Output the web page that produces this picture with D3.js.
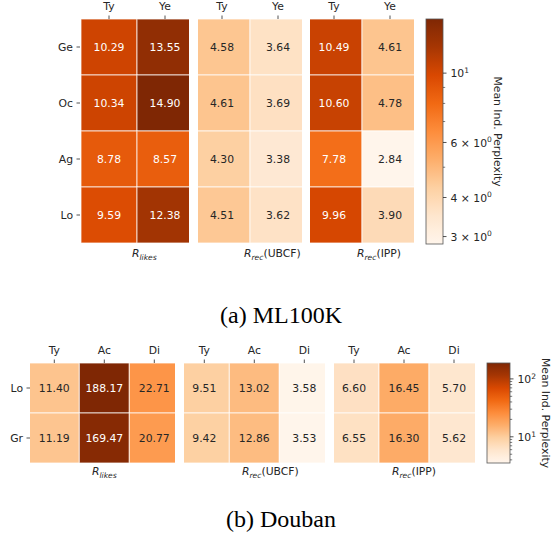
<!DOCTYPE html>
<html>
<head>
<meta charset="utf-8">
<script src="https://cdn.jsdelivr.net/npm/d3@7"></script>
<style>
  body { margin: 0; background: #fff; }
  text { font-family: 'DejaVu Sans', sans-serif; fill: #262626; }
</style>
</head>
<body>
<script>
const width = 553;
const height = 537;
const fs = 10.8;

// ML100K
const mlRows = ['Ge', 'Oc', 'Ag', 'Lo'];
const mlCols = ['Ty', 'Ye'];
const mlLikes = [[10.29, 13.55], [10.34, 14.90], [8.78, 8.57], [9.59, 12.38]];
const mlUBCF = [[4.58, 3.64], [4.61, 3.69], [4.30, 3.38], [4.51, 3.62]];
const mlIPP = [[10.49, 4.61], [10.60, 4.78], [7.78, 2.84], [9.96, 3.90]];
const mlMajorTicks = [10, 6, 4, 3];
const mlMinorTicks = [9, 8, 7, 5];

// Douban
const dbRows = ['Lo', 'Gr'];
const dbCols = ['Ty', 'Ac', 'Di'];
const dbLikes = [[11.40, 188.17, 22.71], [11.19, 169.47, 20.77]];
const dbUBCF = [[9.51, 13.02, 3.58], [9.42, 12.86, 3.53]];
const dbIPP = [[6.60, 16.45, 5.70], [6.55, 16.30, 5.62]];
const dbMajorTicks = [100, 10];
const dbMinorTicks = [4, 5, 6, 7, 8, 9, 20, 30, 40, 50, 60, 70, 80, 90];

const titles = ['(a) ML100K', '(b) Douban'];
const cbLabel = 'Mean Ind. Perplexity';

// matplotlib-style Oranges (linear between the 9 brewer colours)
const oranges = d3.scaleLinear()
  .domain(d3.range(9).map((i) => i / 8))
  .range(d3.schemeOranges[9])
  .interpolate(d3.interpolateRgb)
  .clamp(true);

const svg = d3.select('body')
  .append('svg')
    .attr('width', width)
    .attr('height', height);

const defs = svg.append('defs');
let clipId = 0;

const sup = (sel, base, exp) => {
  sel.append('tspan').text(base);
  sel.append('tspan').attr('font-size', fs * 0.7).attr('dy', -4.5).text(exp);
};

const formatTick = (sel, v) => {
  const e = Math.floor(Math.log10(v) + 1e-9);
  const m = Math.round(v / Math.pow(10, e));
  if (m === 1) sup(sel, '10', e);
  else sup(sel, `${m} \u00d7 10`, e);
};

const heatmap = (opt) => {
  const { values, rows, cols, norm, band, clip, yr, showRows, label } = opt;

  const x = d3.scaleBand().domain(cols).range(band);
  const y = d3.scaleBand().domain(rows).range(yr);

  const id = 'clip' + (clipId++);
  defs.append('clipPath').attr('id', id)
    .append('rect')
      .attr('x', clip[0]).attr('y', yr[0] - 1)
      .attr('width', clip[1] - clip[0]).attr('height', yr[1] - yr[0] + 2);

  const g = svg.append('g');
  const cells = g.append('g').attr('clip-path', `url(#${id})`);

  const flat = [];
  rows.forEach((r, i) => cols.forEach((c, j) => flat.push({ r, c, v: values[i][j] })));

  cells.selectAll('rect')
    .data(flat)
    .enter()
    .append('rect')
      .attr('x', (d) => x(d.c))
      .attr('y', (d) => y(d.r))
      .attr('width', x.bandwidth())
      .attr('height', y.bandwidth())
      .attr('fill', (d) => oranges(norm(d.v)))
      .attr('stroke', 'white')
      .attr('stroke-opacity', 0.75)
      .attr('stroke-width', 1);

  cells.selectAll('text')
    .data(flat)
    .enter()
    .append('text')
      .attr('x', (d) => x(d.c) + x.bandwidth() / 2)
      .attr('y', (d) => y(d.r) + y.bandwidth() / 2)
      .attr('dy', '0.36em')
      .attr('text-anchor', 'middle')
      .attr('font-size', fs)
      .style('fill', (d) => norm(d.v) > 0.55 ? '#ffffff' : '#262626')
      .text((d) => d.v.toFixed(2));

  // column ticks on top
  const top = g.append('g');
  cols.forEach((c) => {
    const cx = x(c) + x.bandwidth() / 2;
    top.append('line')
      .attr('x1', cx).attr('x2', cx)
      .attr('y1', yr[0] - 3.5).attr('y2', yr[0])
      .attr('stroke', '#262626').attr('stroke-width', 0.8);
    top.append('text')
      .attr('x', cx).attr('y', yr[0] - 9)
      .attr('text-anchor', 'middle')
      .attr('font-size', fs)
      .text(c);
  });

  if (showRows) {
    rows.forEach((r) => {
      const cy = y(r) + y.bandwidth() / 2;
      g.append('line')
        .attr('x1', clip[0] - 3.5).attr('x2', clip[0])
        .attr('y1', cy).attr('y2', cy)
        .attr('stroke', '#262626').attr('stroke-width', 0.8);
      g.append('text')
        .attr('x', clip[0] - 7).attr('y', cy)
        .attr('dy', '0.36em')
        .attr('text-anchor', 'end')
        .attr('font-size', fs)
        .text(r);
    });
  }

  const t = g.append('text')
    .attr('x', label.x).attr('y', label.y)
    .attr('font-size', fs);
  t.append('tspan').attr('font-style', 'italic').text('R');
  t.append('tspan').attr('font-style', 'italic')
    .attr('font-size', fs * 0.7).attr('dy', 2.8).text(label.sub);
  if (label.rest) t.append('tspan').attr('dy', -2.8).text(label.rest);
};

const colorbar = (opt) => {
  const { domain, x0, x1, y0, y1, major, minor, labelX } = opt;
  const id = 'grad' + (clipId++);
  const grad = defs.append('linearGradient').attr('id', id)
    .attr('x1', 0).attr('x2', 0).attr('y1', 1).attr('y2', 0);
  d3.range(0, 1.0001, 1 / 32).forEach((s) => {
    grad.append('stop').attr('offset', s).attr('stop-color', oranges(s));
  });

  const y = d3.scaleLog().domain(domain).range([y1, y0]);
  const g = svg.append('g');
  g.append('rect')
    .attr('x', x0).attr('y', y0)
    .attr('width', x1 - x0).attr('height', y1 - y0)
    .attr('fill', `url(#${id})`)
    .attr('stroke', '#555').attr('stroke-width', 0.8);

  minor.forEach((v) => {
    g.append('line')
      .attr('x1', x1).attr('x2', x1 + 2.2)
      .attr('y1', y(v)).attr('y2', y(v))
      .attr('stroke', '#262626').attr('stroke-width', 0.6);
  });
  major.forEach((v) => {
    g.append('line')
      .attr('x1', x1).attr('x2', x1 + 3.5)
      .attr('y1', y(v)).attr('y2', y(v))
      .attr('stroke', '#262626').attr('stroke-width', 0.8);
    g.append('text')
      .attr('x', x1 + 7.5).attr('y', y(v) + 4.2)
      .attr('font-size', fs)
      .call(formatTick, v);
  });

  const cy = (y0 + y1) / 2;
  g.append('text')
    .attr('transform', `translate(${labelX},${cy}) rotate(90)`)
    .attr('text-anchor', 'middle')
    .attr('font-size', fs)
    .text(cbLabel);
};

// ---- ML100K ----
const mlDomain = d3.extent([].concat(...mlLikes, ...mlUBCF, ...mlIPP));
const mlNorm = d3.scaleLog().domain(mlDomain).range([0, 1]);
const mlY = [19, 243];

heatmap({ values: mlLikes, rows: mlRows, cols: mlCols, norm: mlNorm,
  band: [81, 193], clip: [80, 189], yr: mlY, showRows: true,
  label: { x: 132, y: 257, sub: 'likes' } });
heatmap({ values: mlUBCF, rows: mlRows, cols: mlCols, norm: mlNorm,
  band: [194, 306], clip: [198, 302], yr: mlY, showRows: false,
  label: { x: 244, y: 257, sub: 'rec', rest: '(UBCF)' } });
heatmap({ values: mlIPP, rows: mlRows, cols: mlCols, norm: mlNorm,
  band: [306, 418], clip: [310, 414], yr: mlY, showRows: false,
  label: { x: 357, y: 257, sub: 'rec', rest: '(IPP)' } });
colorbar({ domain: mlDomain, x0: 426, x1: 443, y0: 19, y1: 244,
  major: mlMajorTicks, minor: mlMinorTicks, labelX: 494 });

// ---- Douban ----
const dbDomain = d3.extent([].concat(...dbLikes, ...dbUBCF, ...dbIPP));
const dbNorm = d3.scaleLog().domain(dbDomain).range([0, 1]);
const dbY = [363, 463];

heatmap({ values: dbLikes, rows: dbRows, cols: dbCols, norm: dbNorm,
  band: [29.3, 179.3], clip: [30, 175], yr: dbY, showRows: true,
  label: { x: 92, y: 475, sub: 'likes' } });
heatmap({ values: dbUBCF, rows: dbRows, cols: dbCols, norm: dbNorm,
  band: [179.3, 329.3], clip: [184, 325], yr: dbY, showRows: false,
  label: { x: 242, y: 475, sub: 'rec', rest: '(UBCF)' } });
heatmap({ values: dbIPP, rows: dbRows, cols: dbCols, norm: dbNorm,
  band: [329, 479], clip: [334, 475], yr: dbY, showRows: false,
  label: { x: 392, y: 475, sub: 'rec', rest: '(IPP)' } });
colorbar({ domain: dbDomain, x0: 487, x1: 510, y0: 363, y1: 463,
  major: dbMajorTicks, minor: dbMinorTicks, labelX: 542 });

// captions
svg.selectAll('text.caption')
  .data(titles)
  .enter()
  .append('text')
    .attr('class', 'caption')
    .attr('x', 281)
    .attr('y', (d, i) => i === 0 ? 323 : 527)
    .attr('text-anchor', 'middle')
    .attr('font-size', 24)
    .style('font-family', "'Liberation Serif', serif")
    .style('fill', '#000')
    .text((d) => d);
</script>
</body>
</html>
